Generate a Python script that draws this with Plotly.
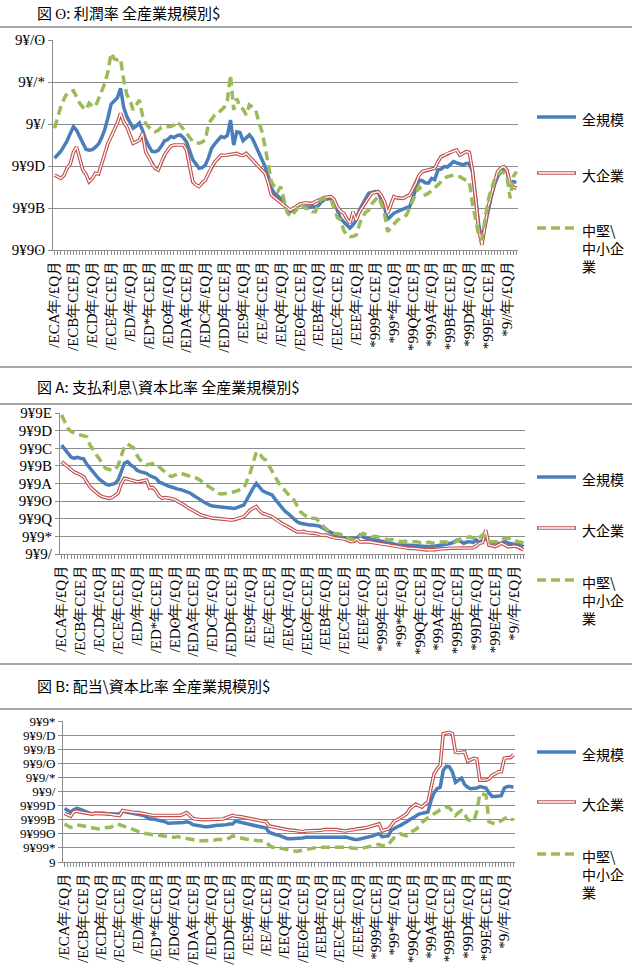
import plotly.graph_objects as go

# ---------------- data ----------------
quarters = [f"{y}年{q}" for y in range(1975, 2012) for q in ("1-3月", "4-6月", "7-9月", "10-12月")]

x_tick_labels = ["/ECA年/£Q月", "/ECB年C£E月", "/ECD年/£Q月", "/ECE年C£E月", "/ED/年/£Q月",
                 "/ED*年C£E月", "/EDʘ年/£Q月", "/EDA年C£E月", "/EDC年/£Q月", "/EDD年C£E月",
                 "/EE9年/£Q月", "/EE/年C£E月", "/EEQ年/£Q月", "/EEʘ年C£E月", "/EEB年/£Q月",
                 "/EEC年C£E月", "/EEE年/£Q月", "*999年C£E月", "*99*年/£Q月", "*99Q年C£E月",
                 "*99A年/£Q月", "*99B年C£E月", "*99D年/£Q月", "*99E年C£E月", "*9//年/£Q月"]

series_names = ["全規模", "大企業", "中堅\\中小企業"]
legend_texts = ["全規模", "大企業", "中堅\\<br>中小企<br>業"]

titles = ["図 ʘ: 利潤率 全産業規模別$",
          "図 A: 支払利息\\資本比率 全産業規模別$",
          "図 B: 配当\\資本比率 全産業規模別$"]

y1_ticks = [0.04, 0.06, 0.08, 0.10, 0.12, 0.14]
y1_text = ["9¥9ʘ", "9¥9B", "9¥9D", "9¥/", "9¥/*", "9¥/ʘ"]
y2_ticks = [0.01, 0.02, 0.03, 0.04, 0.05, 0.06, 0.07, 0.08, 0.09]
y2_text = ["9¥9/", "9¥9*", "9¥9Q", "9¥9ʘ", "9¥9A", "9¥9B", "9¥9C", "9¥9D", "9¥9E"]
y3_ticks = [0, 0.002, 0.004, 0.006, 0.008, 0.01, 0.012, 0.014, 0.016, 0.018, 0.02]
y3_text = ["9", "9¥99*", "9¥99ʘ", "9¥99B", "9¥99D", "9¥9/", "9¥9/*", "9¥9/ʘ", "9¥9/B", "9¥9/D", "9¥9*"]

# 図4 利潤率
profit_all = [0.0837, 0.0855, 0.087, 0.0895, 0.092, 0.0955, 0.0987, 0.097, 0.094, 0.091,
              0.088, 0.0875, 0.0878, 0.089, 0.0905, 0.0935, 0.0975, 0.103, 0.1095, 0.111,
              0.1125, 0.117, 0.108, 0.1035, 0.1005, 0.098, 0.099, 0.1005, 0.097, 0.0925,
              0.0895, 0.087, 0.0868, 0.0875, 0.0895, 0.092, 0.0925, 0.094, 0.0935, 0.0945,
              0.0948, 0.0935, 0.0915, 0.087, 0.0829, 0.081, 0.0789, 0.0792, 0.0805, 0.084,
              0.0885, 0.0905, 0.092, 0.094, 0.0935, 0.0945, 0.1019, 0.09, 0.0963, 0.096,
              0.092, 0.0935, 0.0948, 0.093, 0.0895, 0.087, 0.083, 0.0797, 0.075, 0.0695,
              0.067, 0.0655, 0.0645, 0.062, 0.0595, 0.0582, 0.0595, 0.0605, 0.0618, 0.061,
              0.0605, 0.0603, 0.0606, 0.0605, 0.0612, 0.063, 0.064, 0.0645, 0.0646, 0.063,
              0.059, 0.055, 0.0535, 0.052, 0.0505, 0.052, 0.0543, 0.059, 0.062, 0.0645,
              0.067, 0.0672, 0.0678, 0.0675, 0.064, 0.0606, 0.0545, 0.056, 0.0575, 0.0582,
              0.059, 0.0595, 0.0602, 0.0606, 0.065, 0.0695, 0.0733, 0.073, 0.072, 0.0718,
              0.0741, 0.0735, 0.0781, 0.0785, 0.0797, 0.0795, 0.081, 0.0821, 0.0815, 0.0808,
              0.0805, 0.0812, 0.0813, 0.0775, 0.066, 0.052, 0.0448, 0.052, 0.06, 0.0654,
              0.071, 0.0749, 0.077, 0.0781, 0.0775, 0.0702, 0.0725, 0.0722]
profit_large = [0.0757, 0.0748, 0.0741, 0.0755, 0.079, 0.081, 0.0865, 0.0891, 0.084, 0.0781,
                0.076, 0.0725, 0.074, 0.0765, 0.0762, 0.0813, 0.086, 0.0908, 0.094, 0.0971,
                0.1005, 0.1051, 0.101, 0.0987, 0.095, 0.0908, 0.0915, 0.0924, 0.0956, 0.0868,
                0.084, 0.081, 0.0789, 0.0781, 0.082, 0.0852, 0.0875, 0.0895, 0.09, 0.09,
                0.0898, 0.09, 0.0876, 0.08, 0.0725, 0.071, 0.0702, 0.072, 0.0733, 0.0765,
                0.0797, 0.082, 0.0835, 0.0852, 0.085, 0.0852, 0.0855, 0.0858, 0.086, 0.0852,
                0.085, 0.086, 0.0845, 0.0829, 0.081, 0.0797, 0.078, 0.0765, 0.072, 0.0662,
                0.065, 0.0638, 0.0625, 0.0614, 0.0598, 0.059, 0.0598, 0.061, 0.0618, 0.0622,
                0.0625, 0.0622, 0.0622, 0.063, 0.0638, 0.0646, 0.065, 0.0652, 0.0654, 0.064,
                0.0605, 0.0585, 0.0575, 0.055, 0.0527, 0.0582, 0.0543, 0.058, 0.0605, 0.063,
                0.065, 0.067, 0.0675, 0.0678, 0.066, 0.063, 0.0575, 0.0615, 0.0654, 0.0648,
                0.0646, 0.0646, 0.0655, 0.0662, 0.069, 0.0718, 0.0755, 0.0773, 0.0778, 0.0781,
                0.0785, 0.0789, 0.082, 0.0844, 0.085, 0.086, 0.0865, 0.0872, 0.0876, 0.0852,
                0.086, 0.0868, 0.0865, 0.078, 0.065, 0.05, 0.0424, 0.051, 0.0605, 0.0662,
                0.0725, 0.0773, 0.079, 0.0797, 0.078, 0.0718, 0.07, 0.0694]
profit_sme = [0.098, 0.1035, 0.1083, 0.112, 0.1146, 0.1155, 0.1159, 0.113, 0.1099, 0.108,
              0.1067, 0.1099, 0.1085, 0.1083, 0.112, 0.1165, 0.1194, 0.125, 0.1337, 0.131,
              0.1305, 0.131, 0.121, 0.114, 0.1114, 0.1067, 0.1091, 0.1114, 0.104, 0.1003,
              0.0985, 0.097, 0.0963, 0.097, 0.0985, 0.0987, 0.0985, 0.0988, 0.0995, 0.1011,
              0.0995, 0.0975, 0.0956, 0.0935, 0.0916, 0.091, 0.0908, 0.0915, 0.0924, 0.1003,
              0.1025, 0.1043, 0.105, 0.1067, 0.108, 0.1114, 0.1233, 0.1067, 0.1122, 0.1083,
              0.107, 0.1043, 0.1091, 0.108, 0.1067, 0.101, 0.0965, 0.0892, 0.081, 0.0725,
              0.07, 0.0678, 0.0701, 0.0638, 0.058, 0.0559, 0.0575, 0.059, 0.0622, 0.061,
              0.0598, 0.0598, 0.0582, 0.0582, 0.062, 0.0646, 0.0642, 0.064, 0.0638, 0.06,
              0.0555, 0.0543, 0.0495, 0.047, 0.0463, 0.0465, 0.0471, 0.052, 0.0559, 0.058,
              0.059, 0.062, 0.0638, 0.0654, 0.062, 0.0575, 0.0487, 0.0505, 0.0527, 0.054,
              0.055, 0.056, 0.0567, 0.06, 0.0638, 0.067, 0.0702, 0.068, 0.0662, 0.067,
              0.0682, 0.0694, 0.071, 0.0725, 0.074, 0.0749, 0.0755, 0.0757, 0.0752, 0.0749,
              0.074, 0.0733, 0.0725, 0.0622, 0.055, 0.047, 0.0448, 0.055, 0.0638, 0.069,
              0.0733, 0.0755, 0.0773, 0.077, 0.0749, 0.0646, 0.0749, 0.0773]

# 図5 支払利息・資本比率
interest_all = [0.0718, 0.0695, 0.0671, 0.065, 0.0643, 0.0648, 0.0643, 0.064, 0.061, 0.0586,
                0.0565, 0.0545, 0.0525, 0.051, 0.0498, 0.0491, 0.0495, 0.05, 0.052, 0.0575,
                0.0615, 0.0624, 0.0605, 0.0595, 0.0575, 0.0567, 0.056, 0.0558, 0.0545, 0.0535,
                0.053, 0.051, 0.05, 0.0491, 0.0485, 0.048, 0.0473, 0.0468, 0.0465, 0.046,
                0.0455, 0.0445, 0.0432, 0.0418, 0.041, 0.0398, 0.0385, 0.0378, 0.0372, 0.037,
                0.0369, 0.0365, 0.0362, 0.036, 0.036, 0.0358, 0.0365, 0.037, 0.0378, 0.041,
                0.0444, 0.0475, 0.0501, 0.048, 0.0458, 0.045, 0.0442, 0.0435, 0.041, 0.0388,
                0.0365, 0.0345, 0.0331, 0.0315, 0.0298, 0.0283, 0.0274, 0.027, 0.0266, 0.0265,
                0.0265, 0.0262, 0.0258, 0.025, 0.0237, 0.0228, 0.022, 0.021, 0.0198, 0.0195,
                0.019, 0.0189, 0.0189, 0.0189, 0.019, 0.0208, 0.0195, 0.019, 0.0185, 0.018,
                0.018, 0.0175, 0.0172, 0.017, 0.0165, 0.016, 0.0155, 0.0151, 0.0151, 0.0152,
                0.0151, 0.015, 0.0148, 0.0146, 0.0142, 0.0142, 0.0143, 0.0142, 0.0142, 0.0145,
                0.0148, 0.0151, 0.0155, 0.0158, 0.0161, 0.017, 0.018, 0.0172, 0.0161, 0.0168,
                0.017, 0.0165, 0.018, 0.0165, 0.0175, 0.019, 0.017, 0.0165, 0.0161, 0.016,
                0.0161, 0.0172, 0.0163, 0.016, 0.0158, 0.0151, 0.0155, 0.0142]
interest_large = [0.0624, 0.061, 0.0596, 0.058, 0.0565, 0.0558, 0.0548, 0.0539, 0.051, 0.0482,
                  0.0465, 0.0448, 0.0435, 0.0425, 0.042, 0.0416, 0.042, 0.0435, 0.0445, 0.05,
                  0.0529, 0.0525, 0.052, 0.0515, 0.051, 0.0512, 0.0518, 0.052, 0.0475, 0.0478,
                  0.046, 0.043, 0.0416, 0.042, 0.0418, 0.0416, 0.041, 0.0398, 0.039, 0.0378,
                  0.0365, 0.0355, 0.0342, 0.0331, 0.0325, 0.0318, 0.0312, 0.0308, 0.0303, 0.0302,
                  0.03, 0.0298, 0.0295, 0.0293, 0.0293, 0.0295, 0.03, 0.0305, 0.0312, 0.033,
                  0.035, 0.036, 0.0369, 0.0345, 0.0331, 0.0325, 0.032, 0.0312, 0.0298, 0.0285,
                  0.0274, 0.0265, 0.0255, 0.0246, 0.0235, 0.0225, 0.0225, 0.0228, 0.0222, 0.0218,
                  0.0218, 0.0217, 0.0212, 0.0205, 0.0208, 0.02, 0.0196, 0.0192, 0.019, 0.0189,
                  0.0185, 0.0178, 0.017, 0.0172, 0.0185, 0.0168, 0.017, 0.017, 0.0168, 0.0165,
                  0.0163, 0.0161, 0.0158, 0.0155, 0.015, 0.0145, 0.0142, 0.014, 0.0138, 0.0135,
                  0.0133, 0.0132, 0.0133, 0.013, 0.0128, 0.0125, 0.0123, 0.0124, 0.0123, 0.0125,
                  0.0128, 0.013, 0.0133, 0.0132, 0.0133, 0.0133, 0.0133, 0.0134, 0.0133, 0.0133,
                  0.0133, 0.0135, 0.0145, 0.0161, 0.0165, 0.0236, 0.0151, 0.0145, 0.0142, 0.015,
                  0.0161, 0.0152, 0.0142, 0.0142, 0.0145, 0.0142, 0.0135, 0.0123]
interest_sme = [0.0889, 0.0845, 0.0813, 0.0795, 0.0785, 0.078, 0.0775, 0.077, 0.0766, 0.072,
                0.069, 0.0665, 0.064, 0.061, 0.0586, 0.058, 0.0577, 0.0577, 0.0603, 0.066,
                0.071, 0.0724, 0.0712, 0.07, 0.066, 0.0633, 0.062, 0.0605, 0.061, 0.0612,
                0.0614, 0.0595, 0.0577, 0.056, 0.0548, 0.0539, 0.0548, 0.0555, 0.0558, 0.0552,
                0.0545, 0.054, 0.0539, 0.053, 0.052, 0.0505, 0.049, 0.0482, 0.047, 0.0455,
                0.0444, 0.044, 0.0442, 0.0444, 0.0448, 0.0453, 0.046, 0.0465, 0.0473, 0.0515,
                0.0558, 0.062, 0.068, 0.067, 0.0645, 0.0633, 0.06, 0.057, 0.0539, 0.05,
                0.0475, 0.0463, 0.044, 0.042, 0.0406, 0.0375, 0.034, 0.0325, 0.0312, 0.0302,
                0.0303, 0.0302, 0.028, 0.026, 0.0245, 0.023, 0.0222, 0.0217, 0.0215, 0.021,
                0.0198, 0.0189, 0.0185, 0.018, 0.0185, 0.0205, 0.0217, 0.021, 0.0205, 0.0198,
                0.02, 0.0198, 0.0192, 0.0185, 0.018, 0.0182, 0.0178, 0.0172, 0.017, 0.0172,
                0.017, 0.0168, 0.017, 0.017, 0.0165, 0.0161, 0.0163, 0.0168, 0.0161, 0.0165,
                0.017, 0.0168, 0.017, 0.0165, 0.0161, 0.0165, 0.0175, 0.0185, 0.0189, 0.0195,
                0.0198, 0.019, 0.018, 0.0195, 0.0208, 0.0195, 0.017, 0.017, 0.0172, 0.017,
                0.018, 0.0189, 0.019, 0.0189, 0.0185, 0.017, 0.0168, 0.0161]

# 図6 配当・資本比率
dividend_all = [0.0076, 0.0073, 0.0071, 0.0074, 0.0076, 0.0075, 0.0073, 0.0072, 0.007, 0.0068,
                0.0069, 0.0069, 0.007, 0.0069, 0.0068, 0.0068, 0.0069, 0.0068, 0.0068, 0.0072,
                0.0071, 0.007, 0.007, 0.0069, 0.0068, 0.0067, 0.0066, 0.0063, 0.0061, 0.0061,
                0.006, 0.006, 0.0058, 0.0057, 0.0055, 0.0055, 0.0055, 0.0056, 0.0055, 0.0056,
                0.0057, 0.0056, 0.0053, 0.0052, 0.0051, 0.005, 0.005, 0.005, 0.0051, 0.0052,
                0.0052, 0.0052, 0.0052, 0.0053, 0.0054, 0.0054, 0.0058, 0.0057, 0.0056, 0.0055,
                0.0054, 0.0053, 0.0052, 0.0051, 0.005, 0.0049, 0.0048, 0.0042, 0.004, 0.0039,
                0.0038, 0.0036, 0.0034, 0.0033, 0.0033, 0.0033, 0.0033, 0.0033, 0.0034, 0.0035,
                0.0035, 0.0035, 0.0034, 0.0035, 0.0035, 0.0035, 0.0035, 0.0035, 0.0035, 0.0035,
                0.0035, 0.0035, 0.00355, 0.0034, 0.0033, 0.0032, 0.0032, 0.0033, 0.0033, 0.0034,
                0.0035, 0.0037, 0.0039, 0.004, 0.0036, 0.0036, 0.0037, 0.0045, 0.0048, 0.005,
                0.0052, 0.0054, 0.0057, 0.006, 0.0062, 0.0065, 0.0068, 0.0069, 0.007, 0.0071,
                0.0087, 0.0098, 0.0104, 0.0106, 0.013, 0.0136, 0.0135, 0.0128, 0.0113, 0.0116,
                0.0119, 0.011, 0.0106, 0.0104, 0.0104, 0.0105, 0.0107, 0.0106, 0.0105, 0.0098,
                0.0093, 0.0093, 0.0093, 0.0094, 0.0105, 0.0107, 0.0107, 0.0106]
dividend_large = [0.0069, 0.0067, 0.0065, 0.0071, 0.0072, 0.0071, 0.007, 0.0069, 0.0068, 0.0068,
                  0.0069, 0.0069, 0.0069, 0.0068, 0.0068, 0.0068, 0.0067, 0.0066, 0.0066, 0.0073,
                  0.0072, 0.0071, 0.0071, 0.007, 0.007, 0.0069, 0.0068, 0.0067, 0.0066, 0.0066,
                  0.0066, 0.0066, 0.0066, 0.0066, 0.0066, 0.0066, 0.0066, 0.0066, 0.0066, 0.0068,
                  0.007, 0.0066, 0.0062, 0.0061, 0.006, 0.006, 0.006, 0.006, 0.006, 0.0061,
                  0.0061, 0.0061, 0.0061, 0.0063, 0.0065, 0.0066, 0.0065, 0.0065, 0.0064, 0.0063,
                  0.0062, 0.0062, 0.0061, 0.006, 0.0059, 0.0058, 0.0057, 0.0051, 0.005, 0.0049,
                  0.0048, 0.0047, 0.0046, 0.0045, 0.0045, 0.0045, 0.0044, 0.0043, 0.0043, 0.0044,
                  0.0044, 0.0044, 0.0044, 0.0045, 0.0045, 0.0046, 0.0046, 0.0047, 0.0047, 0.0046,
                  0.0045, 0.0044, 0.0044, 0.0045, 0.0045, 0.0046, 0.0047, 0.0047, 0.0048, 0.0049,
                  0.005, 0.0052, 0.0053, 0.0054, 0.0044, 0.0045, 0.0047, 0.0052, 0.0058, 0.006,
                  0.0063, 0.0065, 0.0068, 0.0075, 0.0079, 0.0082, 0.008, 0.0078, 0.0082, 0.0085,
                  0.0105, 0.0125, 0.0132, 0.0137, 0.0182, 0.0183, 0.0184, 0.0182, 0.0156, 0.0155,
                  0.0155, 0.0156, 0.0143, 0.0145, 0.0147, 0.0146, 0.0116, 0.0116, 0.0116, 0.0118,
                  0.0123, 0.0125, 0.0128, 0.0128, 0.0147, 0.0148, 0.0148, 0.0152]
dividend_sme = [0.0054, 0.0051, 0.0049, 0.005, 0.0052, 0.0052, 0.0051, 0.0051, 0.005, 0.0048,
                0.0047, 0.0047, 0.0048, 0.0049, 0.0049, 0.0049, 0.0052, 0.0054, 0.0053, 0.0051,
                0.005, 0.0048, 0.0047, 0.0045, 0.0043, 0.0042, 0.0041, 0.004, 0.0039, 0.0039,
                0.0038, 0.0038, 0.0037, 0.0036, 0.0035, 0.0035, 0.0035, 0.0036, 0.0035, 0.0034,
                0.0033, 0.0032, 0.0031, 0.0031, 0.003, 0.003, 0.003, 0.0031, 0.0031, 0.0031,
                0.0032, 0.0032, 0.0032, 0.0032, 0.0034, 0.0037, 0.0036, 0.0035, 0.0033, 0.0032,
                0.0032, 0.0031, 0.0031, 0.003, 0.003, 0.003, 0.0028, 0.0024, 0.0021, 0.0021,
                0.002, 0.0019, 0.0018, 0.0017, 0.0016, 0.0015, 0.0015, 0.0016, 0.0017, 0.0018,
                0.0019, 0.0019, 0.002, 0.0021, 0.0021, 0.0021, 0.0021, 0.0021, 0.0021, 0.0021,
                0.0022, 0.0022, 0.0022, 0.0021, 0.002, 0.0019, 0.0019, 0.0019, 0.002, 0.0021,
                0.0022, 0.0024, 0.0025, 0.0025, 0.0023, 0.0023, 0.0024, 0.003, 0.0035, 0.0038,
                0.004, 0.0038, 0.0037, 0.004, 0.0044, 0.0046, 0.005, 0.0056, 0.006, 0.0063,
                0.0066, 0.0068, 0.0071, 0.0074, 0.0076, 0.0078, 0.0077, 0.0072, 0.0066, 0.007,
                0.0073, 0.0068, 0.006, 0.0059, 0.0058, 0.0072, 0.0097, 0.0096, 0.0095, 0.0057,
                0.0055, 0.0054, 0.0056, 0.0059, 0.0062, 0.0064, 0.0061, 0.006]

# ---------------- styling ----------------
W, H = 632, 966
BLUE = "#4A7EBB"
RED = "#C0504D"
GREEN = "#9BBB59"
GRID = "#8C8C8C"
JP = "Noto Sans CJK JP"
TICKF = "Liberation Serif"

def px(x):
    return x / W

def py(y):
    return 1 - y / H

panels = [
    dict(data=[profit_all, profit_large, profit_sme], xdom=(53, 518), ydom=(40, 250),
         rng=(0.04, 0.14), ticks=y1_ticks, text=y1_text, yfs=15, title_y=12, legend_y=(117, 173, 228)),
    dict(data=[interest_all, interest_large, interest_sme], xdom=(60, 525), ydom=(413, 554),
         rng=(0.01, 0.09), ticks=y2_ticks, text=y2_text, yfs=15, title_y=386, legend_y=(477, 528, 580)),
    dict(data=[dividend_all, dividend_large, dividend_sme], xdom=(63, 515), ydom=(721, 862),
         rng=(0.0, 0.02), ticks=y3_ticks, text=y3_text, yfs=13, title_y=685, legend_y=(752, 802, 854)),
]

fig = go.Figure()
layout = dict(width=W, height=H, autosize=False, margin=dict(l=0, r=0, t=0, b=0),
              paper_bgcolor="white", plot_bgcolor="white", showlegend=False)
shapes = []
annotations = []

x_tickvals = quarters
x_ticktext = []
for i, q in enumerate(quarters):
    x_ticktext.append(x_tick_labels[i // 6] if i % 6 == 0 else "")

for k, p in enumerate(panels):
    sfx = "" if k == 0 else str(k + 1)
    xa, ya = "x" + sfx, "y" + sfx
    all_s, large_s, sme_s = p["data"]
    fig.add_trace(go.Scatter(x=quarters, y=all_s, mode="lines", xaxis=xa, yaxis=ya,
                             name=series_names[0], line=dict(color=BLUE, width=3.5)))
    fig.add_trace(go.Scatter(x=quarters, y=large_s, mode="lines", xaxis=xa, yaxis=ya,
                             name=series_names[1], line=dict(color=RED, width=3.6)))
    fig.add_trace(go.Scatter(x=quarters, y=large_s, mode="lines", xaxis=xa, yaxis=ya,
                             name=series_names[1], line=dict(color="white", width=1.3),
                             hoverinfo="skip"))
    fig.add_trace(go.Scatter(x=quarters, y=sme_s, mode="lines", xaxis=xa, yaxis=ya,
                             name=series_names[2], line=dict(color=GREEN, width=3.5, dash="9px,5px")))

    layout["xaxis" + sfx] = dict(domain=[px(p["xdom"][0]), px(p["xdom"][1])], anchor=ya,
                                 type="category", tickmode="array", tickvals=x_tickvals,
                                 ticktext=x_ticktext, tickangle=-90, ticks="outside", ticklen=4,
                                 tickcolor=GRID, showline=True, linecolor=GRID, linewidth=1,
                                 showgrid=False, zeroline=False, automargin=False,
                                 range=[-0.5, len(quarters) - 0.5],
                                 tickfont=dict(family=TICKF, size=15, color="black"))
    layout["yaxis" + sfx] = dict(domain=[py(p["ydom"][1]), py(p["ydom"][0])], anchor=xa,
                                 range=list(p["rng"]), tickmode="array", tickvals=p["ticks"],
                                 ticktext=p["text"], showline=True, linecolor=GRID, linewidth=1,
                                 showgrid=True, gridcolor=GRID, gridwidth=1, zeroline=False,
                                 ticks="outside", ticklen=4, tickcolor=GRID, automargin=False,
                                 tickfont=dict(family=TICKF, size=p["yfs"], color="black"))

    # panel title
    annotations.append(dict(text=titles[k], x=px(35), y=py(p["title_y"]), xref="paper", yref="paper",
                            xanchor="left", yanchor="middle", showarrow=False,
                            font=dict(family=JP, size=15, color="black")))

    # legend (drawn manually)
    ly = p["legend_y"]
    x0, x1 = px(537), px(576)
    shapes.append(dict(type="line", xref="paper", yref="paper", x0=x0, x1=x1, y0=py(ly[0]), y1=py(ly[0]),
                       line=dict(color=BLUE, width=3.5)))
    shapes.append(dict(type="line", xref="paper", yref="paper", x0=x0, x1=x1, y0=py(ly[1]), y1=py(ly[1]),
                       line=dict(color=RED, width=3.6)))
    shapes.append(dict(type="line", xref="paper", yref="paper", x0=x0 + 0.002, x1=x1 - 0.002,
                       y0=py(ly[1]), y1=py(ly[1]), line=dict(color="white", width=1.3)))
    shapes.append(dict(type="line", xref="paper", yref="paper", x0=x0, x1=x1, y0=py(ly[2]), y1=py(ly[2]),
                       line=dict(color=GREEN, width=3.5, dash="9px,5px")))
    for j in range(3):
        annotations.append(dict(text=legend_texts[j], x=px(580), y=py(ly[j] - 10), xref="paper",
                                yref="paper", xanchor="left", yanchor="top", align="left",
                                showarrow=False, font=dict(family=JP, size=14, color="black")))

# separator lines of each chart frame
for yline in (27, 367, 404, 664, 709):
    shapes.append(dict(type="line", xref="paper", yref="paper", x0=0, x1=1, y0=py(yline), y1=py(yline),
                       line=dict(color="#A6A6A6", width=2)))

layout["shapes"] = shapes
layout["annotations"] = annotations
fig.update_layout(**layout)
fig.write_html("out.html")
